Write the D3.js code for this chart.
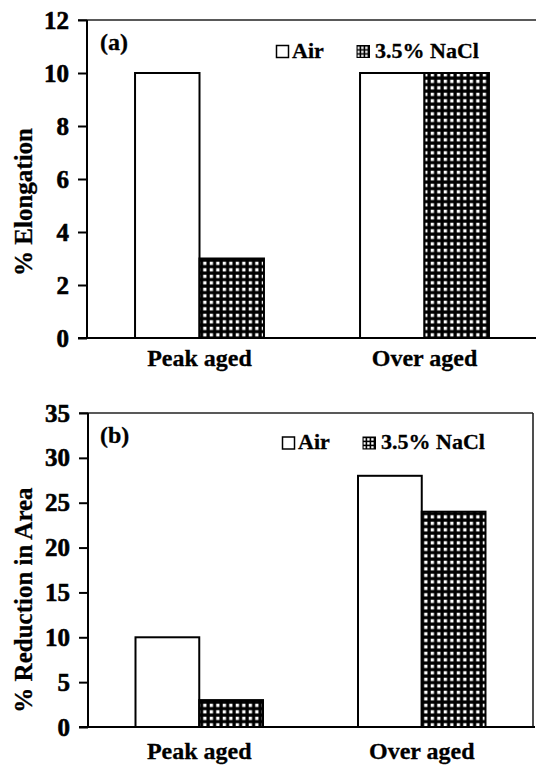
<!DOCTYPE html>
<html>
<head>
<meta charset="utf-8">
<script src="https://cdn.jsdelivr.net/npm/d3@7"></script>
<style>
  html, body { margin: 0; padding: 0; background: #fff; }
  svg { display: block; }
  text { font-family: "Liberation Serif", "Times New Roman", serif; font-weight: bold; fill: #000; }
</style>
</head>
<body>
<script>
// ---- data ----
const categories = ["Peak aged", "Over aged"];
const seriesNames = ["Air", "3.5% NaCl"];
const elongationAir = [10, 10];
const elongationNaCl = [3, 10];
const raAir = [10, 28];
const raNaCl = [3, 24];
const elongationTicks = [0, 2, 4, 6, 8, 10, 12];
const raTicks = [0, 5, 10, 15, 20, 25, 30, 35];

const W = 536, H = 766;
const FONT = '"Liberation Serif", "Times New Roman", serif';
const svg = d3.select("body").append("svg").attr("width", W).attr("height", H);

const defs = svg.append("defs");
const pat = defs.append("pattern").attr("id", "grid")
  .attr("patternUnits", "userSpaceOnUse").attr("width", 6.5).attr("height", 6.5);
pat.append("rect").attr("width", 6.5).attr("height", 6.5).attr("fill", "#000");
pat.append("rect").attr("x", 1.7).attr("y", 1.7).attr("width", 3.3).attr("height", 3.3).attr("fill", "#fff");
const pat2 = defs.append("pattern").attr("id", "gridSmall")
  .attr("patternUnits", "userSpaceOnUse").attr("width", 4).attr("height", 4);
pat2.append("rect").attr("width", 4).attr("height", 4).attr("fill", "#000");
pat2.append("rect").attr("x", 1.2).attr("y", 1.2).attr("width", 2.4).attr("height", 2.4).attr("fill", "#fff");

function styleText(sel, size, heavy) {
  sel.attr("font-family", FONT).attr("font-weight", "bold").attr("font-size", size)
    .style("font-family", FONT).style("font-weight", "bold").style("font-size", size + "px")
    .attr("fill", "#000");
  if (heavy) sel.attr("stroke", "#000").attr("stroke-width", heavy);
}

function panel(cfg) {
  const { left, right, top, bottom, yMax, ticks, air, nacl, ylabel, ylabelY, tag, tagY, legX, legY, catOffset, rightBorder } = cfg;
  const g = svg.append("g");
  const y = d3.scaleLinear().domain([0, yMax]).range([bottom, top]);
  const x = d3.scaleBand().domain(categories).range([left, right]).padding(0);
  const groupW = x.bandwidth() * 0.573;
  const xs = d3.scaleBand().domain(seriesNames).range([0, groupW]).padding(0);

  // frame: top border and optional right border
  g.append("line").attr("x1", left - 9).attr("x2", right).attr("y1", top).attr("y2", top)
    .attr("stroke", "#222").attr("stroke-width", 1.6);
  if (rightBorder) {
    g.append("line").attr("x1", right).attr("x2", right).attr("y1", top).attr("y2", bottom)
      .attr("stroke", "#222").attr("stroke-width", 1.6);
  }

  // bars
  const data = [];
  categories.forEach((c, i) => {
    data.push({ c, s: seriesNames[0], v: air[i] });
    data.push({ c, s: seriesNames[1], v: nacl[i] });
  });
  g.selectAll("rect.bar").data(data).enter().append("rect")
    .attr("class", "bar")
    .attr("x", d => x(d.c) + (x.bandwidth() - groupW) / 2 + xs(d.s))
    .attr("width", xs.bandwidth())
    .attr("y", d => y(d.v))
    .attr("height", d => bottom - y(d.v))
    .attr("fill", d => d.s === seriesNames[0] ? "#fff" : "url(#grid)")
    .attr("stroke", "#000").attr("stroke-width", 2);

  // y axis
  const ya = g.append("g").attr("transform", `translate(${left},0)`)
    .call(d3.axisLeft(y).tickValues(ticks).tickSize(9).tickPadding(9).tickFormat(d3.format("d")));
  ya.attr("font-family", FONT).attr("font-size", 25);
  ya.select(".domain").attr("stroke", "#000").attr("stroke-width", 2).attr("d", `M0,${top}V${bottom}`);
  ya.selectAll(".tick line").attr("stroke", "#000").attr("stroke-width", 2);
  styleText(ya.selectAll(".tick text"), 25, 0.6);

  // x axis line (baseline)
  const xa = g.append("g").attr("transform", `translate(0,${bottom})`)
    .call(d3.axisBottom(x).tickSize(0).tickPadding(catOffset));
  xa.attr("font-family", FONT).attr("font-size", 24);
  xa.select(".domain").attr("stroke", "#000").attr("stroke-width", 2).attr("d", `M${left - 9},0H${right + 2}`);
  styleText(xa.selectAll(".tick text"), 24, 0.3);

  // y label
  styleText(g.append("text").attr("transform", `translate(32,${ylabelY}) rotate(-90)`)
    .attr("text-anchor", "middle").text(ylabel), 25, 0.3);

  // panel tag
  styleText(g.append("text").attr("x", 100).attr("y", tagY).text(tag), 24, 0.3);

  // legend
  const leg = g.append("g").attr("transform", `translate(${legX},${legY})`);
  leg.append("rect").attr("x", 0.5).attr("y", -12).attr("width", 12).attr("height", 12)
    .attr("fill", "#fff").attr("stroke", "#000").attr("stroke-width", 1.5);
  styleText(leg.append("text").attr("x", 16).attr("y", 0).text(seriesNames[0]), 22, 0.3);
  leg.append("rect").attr("x", 81).attr("y", -12).attr("width", 12.5).attr("height", 12)
    .attr("fill", "url(#gridSmall)").attr("stroke", "#000").attr("stroke-width", 1);
  styleText(leg.append("text").attr("x", 99).attr("y", 0).text(seriesNames[1]), 22, 0.3);
}

panel({ left: 87, right: 537, top: 20, bottom: 338, yMax: 12, ticks: elongationTicks,
  air: elongationAir, nacl: elongationNaCl, ylabel: "% Elongation", ylabelY: 202,
  tag: "(a)", tagY: 50, legX: 276, legY: 57.5, catOffset: 11, rightBorder: false });

panel({ left: 88, right: 533, top: 413, bottom: 727, yMax: 35, ticks: raTicks,
  air: raAir, nacl: raNaCl, ylabel: "% Reduction in Area", ylabelY: 600,
  tag: "(b)", tagY: 443, legX: 282, legY: 449, catOffset: 15, rightBorder: true });
</script>
</body>
</html>
